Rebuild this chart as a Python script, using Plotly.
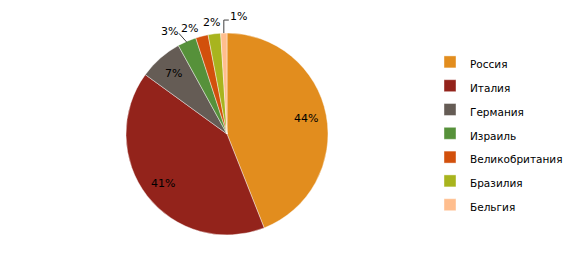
import math
import plotly.graph_objects as go

countries = ["Россия", "Италия", "Германия", "Израиль", "Великобритания", "Бразилия", "Бельгия"]
shares = [44, 41, 7, 3, 2, 2, 1]
colors = ["#E28D1E", "#93231B", "#655C55", "#56913A", "#D2500C", "#A8B41E", "#FFBE8E"]

W, H = 580, 269
CX, CY, R = 227, 134, 101  # pie centre/radius in px (layout)

fig = go.Figure(go.Pie(
    labels=[f"<span style='font-size:10.5px'>{c}</span>" for c in countries],
    values=shares,
    sort=False,
    direction="clockwise",
    rotation=0,
    textinfo="none",
    hoverinfo="label+percent",
    marker=dict(colors=colors, line=dict(color="rgba(255,255,255,0.6)", width=0.7)),
    domain=dict(x=[(CX - R) / W, (CX + R) / W], y=[1 - (CY + R) / H, 1 - (CY - R) / H]),
))

# label placement style: inside for big slices, outside with offsets for small ones
inside = [True, True, True, False, False, False, False]
out_off = [None, None, None, (-17, -10), (-12, -8), (-3, -11), (15, -17)]

total = sum(shares)
cum = 0
annotations = []
shapes = []
for i, v in enumerate(shares):
    mid = (cum + v / 2) / total * 2 * math.pi
    cum += v
    pct = f"{round(v / total * 100)}%"
    if inside[i]:
        r = 0.80 * R
        px, py = CX + r * math.sin(mid), CY - r * math.cos(mid)
    else:
        ex, ey = CX + R * math.sin(mid), CY - R * math.cos(mid)
        dx, dy = out_off[i]
        px, py = ex + dx, ey + dy
        if i == 3:
            shapes.append(dict(type="line", xref="paper", yref="paper",
                               x0=(ex) / W, y0=1 - (ey + 1) / H,
                               x1=(px + 9) / W, y1=1 - (py + 2) / H,
                               line=dict(color="#404040", width=1)))
        if i == 6:
            path = (f"M{ex/W},{1-ey/H} L{ex/W},{1-(py+4)/H} L{(ex+5)/W},{1-(py+4)/H}")
            shapes.append(dict(type="path", xref="paper", yref="paper", path=path,
                               line=dict(color="#404040", width=1)))
    annotations.append(dict(x=px / W, y=1 - py / H, xref="paper", yref="paper",
                            text=pct, showarrow=False,
                            font=dict(family="DejaVu Sans", size=11, color="#000000"),
                            xanchor="center", yanchor="middle"))

fig.update_layout(
    width=W, height=H,
    margin=dict(l=0, r=0, t=0, b=0),
    paper_bgcolor="white",
    plot_bgcolor="white",
    font=dict(family="DejaVu Sans", size=11, color="#000000"),
    showlegend=True,
    legend=dict(x=430 / W, y=1 - 45 / H, xanchor="left", yanchor="top",
                font=dict(family="DejaVu Sans", size=16, color="#000000"),
                bgcolor="rgba(0,0,0,0)"),
    annotations=annotations,
    shapes=shapes,
)

fig.write_html("out.html")
